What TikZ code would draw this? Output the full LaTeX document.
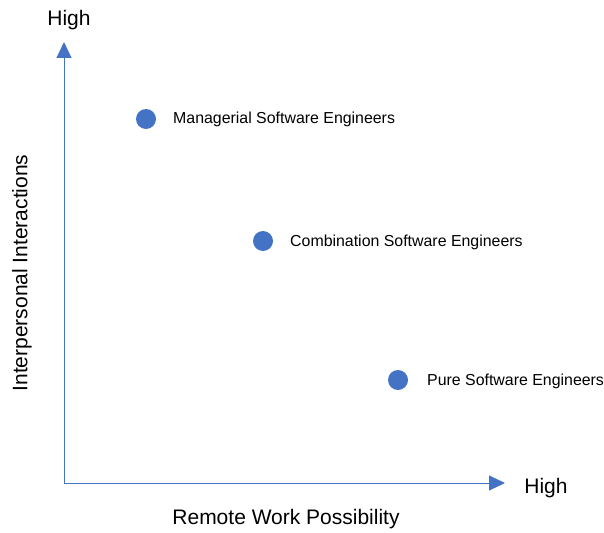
\documentclass[tikz,border=0pt]{standalone}
\usepackage{fontspec}
\setmainfont{Liberation Sans}
\usetikzlibrary{arrows.meta}
\definecolor{axblue}{HTML}{4472C4}
\begin{document}
\begin{tikzpicture}[x=1pt,y=-1pt,
  axisline/.style={draw=axblue,line width=1pt,-{Triangle[length=16pt,width=15pt]}},
  dot/.style={circle,fill=axblue,minimum size=20pt,inner sep=0pt},
  ptlabel/.style={anchor=west,font=\fontsize{15.9}{18}\selectfont,inner sep=0pt},
  axlabel/.style={font=\fontsize{21}{24}\selectfont,inner sep=0pt}]
\useasboundingbox (0,0) rectangle (604,532);
\coordinate (o) at (64,483);
\coordinate (t) at (64,42);
\coordinate (r) at (505,483);
\draw[axisline] (o) -- (t);
\draw[axisline] (o) -- (r);
\node[axlabel] (hy) at (69,20) {High};
\node[axlabel] (hx) at (546,488) {High};
\node[axlabel] (xl) at (286,519) {Remote Work Possibility};
\node[axlabel,rotate=90] (yl) at (22,273) {Interpersonal Interactions};
\node[dot] (d1) at (146,119) {};
\node[dot] (d2) at (263,241) {};
\node[dot] (d3) at (398,380) {};
\node[ptlabel] (l1) at (173,119) {Managerial Software Engineers};
\node[ptlabel] (l2) at (290,242) {Combination Software Engineers};
\node[ptlabel] (l3) at (427,381) {Pure Software Engineers};
\end{tikzpicture}
\end{document}
